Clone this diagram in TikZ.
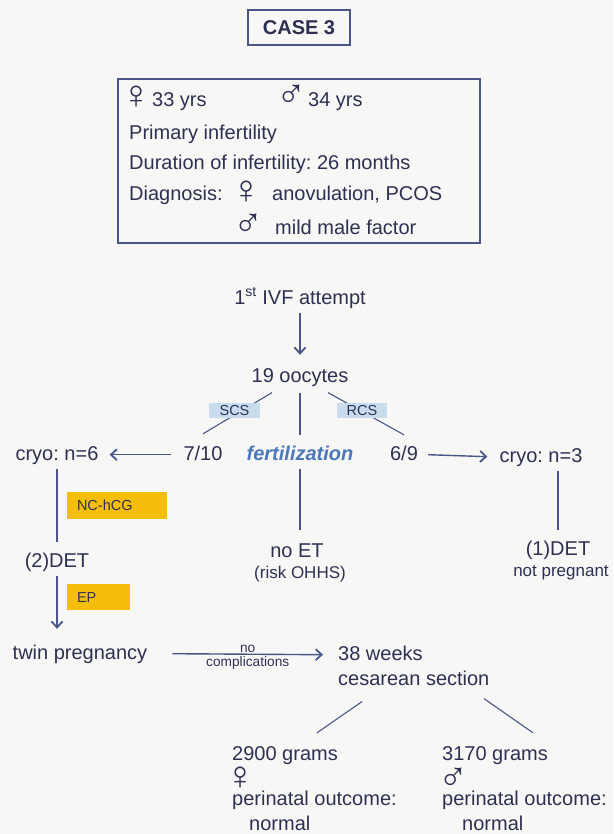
\documentclass[tikz,border=0pt]{standalone}
\usepackage{fontspec}
\setmainfont{Liberation Sans}
\newfontfamily\symf{Liberation Sans}
\usetikzlibrary{arrows.meta,calc}
\definecolor{ink}{HTML}{2E3052}
\definecolor{lnc}{HTML}{4A5688}
\definecolor{gold}{HTML}{F5BE0A}
\definecolor{skyb}{HTML}{C8DCEE}
\definecolor{fblue}{HTML}{4A78B8}
\definecolor{bg}{HTML}{F7F7F5}
\frenchspacing
\begin{document}
\begin{tikzpicture}[x=1pt,y=-1pt,
  every node/.style={inner sep=0pt, text=ink},
  big/.style={font=\fontsize{20}{24}\selectfont, text height=15pt, text depth=4.4pt, anchor=base},
  bigw/.style={big, anchor=base west},
  medtxt/.style={font=\fontsize{17}{20}\selectfont, anchor=base},
  smalltxt/.style={font=\fontsize{13.7}{16}\selectfont},
  tag/.style={font=\fontsize{14.5}{16}\selectfont, text height=10.4pt, text depth=0pt},
  sym/.style={font=\symf\fontsize{40}{44}\selectfont, anchor=center},
  ln/.style={draw=lnc, line width=1.1pt},
  arr/.style={draw=lnc, line width=1.4pt, -{Straight Barb[length=6pt,width=11pt,line width=1.8pt]}},
]
\fill[bg] (0,0) rectangle (613,834);
\useasboundingbox (0,0) rectangle (613,834);

% header boxes
\node[draw=lnc, line width=1.8pt, minimum width=102pt, minimum height=35pt,
      font=\bfseries\fontsize{20}{24}\selectfont] (case) at (299,27.5) {CASE 3};
\node[draw=lnc, line width=1.5pt, minimum width=362pt, minimum height=164pt] (info) at (299,161) {};

% info text
\node[sym] (f1) at (136,97) {♀};
\node[bigw] (age1) at (152,107) {33 yrs};
\node[sym] (m1) at (291,96) {♂};
\node[bigw] (age2) at (308,107) {34 yrs};
\node[bigw] (prim) at (129,140) {Primary infertility};
\node[bigw] (dur) at (129,170) {Duration of infertility: 26 months};
\node[bigw] (diag) at (129,201) {Diagnosis:};
\node[sym] (f2) at (246,192) {♀};
\node[bigw] (dx1) at (272,201) {anovulation, PCOS};
\node[sym] (m2) at (248,225) {♂};
\node[bigw] (dx2) at (275,234) {mild male factor};

% flow nodes
\node[big] (ivf) at (300,304) {1\textsuperscript{st} IVF attempt};
\node[big] (ooc) at (300,382) {19 oocytes};
\node[big] (r710) at (203,460) {7/10};
\node[big, text=fblue, font=\bfseries\itshape\fontsize{20}{24}\selectfont] (fert) at (300,460) {fertilization};
\node[big] (r69) at (404,460) {6/9};
\node[big] (cryoA) at (57,460) {cryo: n=6};
\node[big] (cryoB) at (541,462) {cryo: n=3};
\node[big] (det2) at (57,567) {(2)DET};
\node[big] (noet) at (297,557) {no ET};
\node[medtxt] (risk) at (300,578) {(risk OHHS)};
\node[big] (det1) at (558,555) {(1)DET};
\node[medtxt] (notp) at (561,576) {not pregnant};
\node[big] (twin) at (80,659) {twin pregnancy};
\node[bigw] (wk) at (338,660) {38 weeks};
\node[bigw] (sect) at (338,685) {cesarean section};
\node[bigw] (g1) at (232,760) {2900 grams};
\node[sym] (gf) at (240,778) {♀};
\node[bigw] (g2) at (232,805) {perinatal outcome:};
\node[bigw] (g3) at (249,830) {normal};
\node[bigw] (b1) at (442,760) {3170 grams};
\node[sym] (bm) at (453,779) {♂};
\node[bigw] (b2) at (442,805) {perinatal outcome:};
\node[bigw] (b3) at (462,830) {normal};

% connectors
\draw[arr] ([yshift=-4pt]ivf.south) -- ([yshift=12pt]ooc.north);
\draw[ln] ([xshift=-28pt,yshift=-6pt]ooc.south) -- ([yshift=11pt]r710.north);
\draw[ln] ([yshift=-6pt]ooc.south) -- ([yshift=10pt]fert.north);
\draw[ln] ([xshift=28pt,yshift=-6pt]ooc.south) -- ([yshift=10pt]r69.north);
\draw[arr] ([xshift=-12pt]r710.west) -- ([xshift=11pt]cryoA.east);
\draw[arr] ([xshift=10pt]r69.east) -- ([xshift=-12pt]cryoB.west);
\draw[ln] ([yshift=-4pt]cryoA.south) -- ([yshift=10pt]det2.north);
\draw[arr] ([yshift=-4pt]det2.south) -- ($(det2.south |- twin.north)+(0,-15)$);
\draw[ln] ($(fert.south)+(0,4)$) -- ($(fert.south |- noet.north)+(0,-12)$);
\draw[ln] ($(det1.north |- cryoB.south)+(0,4)$) -- ($(det1.north)+(0,-10)$);
\draw[arr] ([xshift=25pt]twin.east) --
   node[midway, above=0.5pt, smalltxt] (nolab) {no}
   node[midway, below=1.5pt, smalltxt] (complab) {complications}
   ([xshift=-15pt]wk.west);
\draw[ln] ([xshift=24pt,yshift=-12pt]sect.south west) -- ([xshift=85pt,yshift=12pt]g1.north west);
\draw[ln] ([xshift=146pt,yshift=-9pt]sect.south west) -- ([xshift=91pt,yshift=12pt]b1.north west);

% labels on lines
\node[tag, fill=skyb, minimum width=51pt, minimum height=15pt] (scs) at (234.5,410.5) {SCS};
\node[tag, fill=skyb, minimum width=50pt, minimum height=15pt] (rcs) at (362,410.5) {RCS};
\node[tag, fill=gold, text width=80pt, inner xsep=10pt, align=left, minimum height=27pt] (nchcg) at (117,505.5) {NC-hCG};
\node[tag, fill=gold, text width=43pt, inner xsep=10pt, align=left, minimum height=26pt] (ep) at (98.5,597) {EP};
\end{tikzpicture}
\end{document}
